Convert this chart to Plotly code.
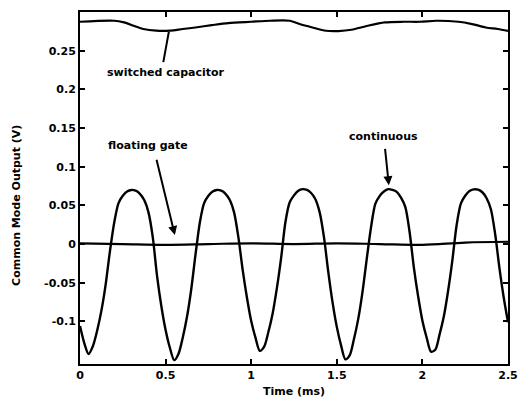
import plotly.graph_objects as go

# ---- data ----
time_cont = [round(i * 0.025, 3) for i in range(101)]
continuous = [
    -0.106, -0.128, -0.142, -0.132, -0.112, -0.086, -0.052, -0.009, 0.028, 0.053,
    0.0625, 0.068, 0.070, 0.069, 0.065, 0.057, 0.041, 0.009, -0.041, -0.080,
    -0.111, -0.134, -0.150, -0.142, -0.121, -0.094, -0.058, -0.013, 0.028, 0.053,
    0.0625, 0.068, 0.070, 0.069, 0.065, 0.057, 0.041, 0.009, -0.033, -0.069,
    -0.0995, -0.121, -0.138, -0.133, -0.114, -0.090, -0.057, -0.0175, 0.0286, 0.054,
    0.063, 0.069, 0.071, 0.070, 0.066, 0.058, 0.041, 0.009, -0.0355, -0.075,
    -0.107, -0.131, -0.149, -0.144, -0.123, -0.097, -0.062, -0.019, 0.022, 0.052,
    0.062, 0.068, 0.071, 0.070, 0.0675, 0.060, 0.048, 0.016, -0.030, -0.0675,
    -0.099, -0.121, -0.139, -0.1366, -0.117, -0.0936, -0.0606, -0.021, 0.0247, 0.0527,
    0.0625, 0.0687, 0.0708, 0.0703, 0.067, 0.0593, 0.045, 0.013, -0.031, -0.069,
    -0.101,
]

time_fg = [0.0, 0.25, 0.5, 0.75, 1.0, 1.25, 1.5, 1.75, 2.0, 2.25, 2.5]
floating_gate = [0.001, 0.0, -0.001, 0.0, 0.001, 0.0, 0.001, 0.0, -0.001, 0.002, 0.003]

time_sc = [0.0, 0.2, 0.257, 0.314, 0.37, 0.445, 0.524, 0.6, 0.674, 0.77, 0.866,
           1.0, 1.11, 1.226, 1.283, 1.357, 1.437, 1.51, 1.585, 1.68, 1.78,
           1.89, 1.985, 2.08, 2.21, 2.29, 2.37, 2.44, 2.5]
switched_cap = [0.2874, 0.2887, 0.2865, 0.2822, 0.278, 0.2758, 0.2758, 0.278, 0.280, 0.283, 0.2857,
                0.2874, 0.2887, 0.2887, 0.2844, 0.280, 0.2758, 0.2754, 0.277, 0.2822, 0.2865,
                0.2874, 0.2874, 0.2887, 0.2874, 0.2844, 0.280, 0.278, 0.2755]

x_ticks = [0, 0.5, 1, 1.5, 2, 2.5]
x_tick_labels = ["0", "0.5", "1", "1.5", "2", "2.5"]
y_ticks = [-0.1, -0.05, 0, 0.05, 0.1, 0.15, 0.2, 0.25]
y_tick_labels = ["-0.1", "-0.05", "0", "0.05", "0.1", "0.15", "0.2", "0.25"]

FONT = "DejaVu Sans, Liberation Sans, Arial, sans-serif"

fig = go.Figure()
fig.add_trace(go.Scatter(x=time_cont, y=continuous, mode="lines",
                         line=dict(color="black", width=2.4, shape="spline", smoothing=0.8),
                         showlegend=False, hoverinfo="skip"))
fig.add_trace(go.Scatter(x=time_fg, y=floating_gate, mode="lines",
                         line=dict(color="black", width=2.2, shape="spline"),
                         showlegend=False, hoverinfo="skip"))
fig.add_trace(go.Scatter(x=time_sc, y=switched_cap, mode="lines",
                         line=dict(color="black", width=2.2, shape="spline", smoothing=0.8),
                         showlegend=False, hoverinfo="skip"))

txt = dict(family=FONT, size=11, color="black", weight="bold")

annotations = [
    # labels
    dict(x=0.50, y=0.2216, xref="x", yref="y", text="switched capacitor", showarrow=False, font=txt),
    dict(x=0.40, y=0.1276, xref="x", yref="y", text="floating gate", showarrow=False, font=txt),
    dict(x=1.77, y=0.139, xref="x", yref="y", text="continuous", showarrow=False, font=txt),
    # arrows
    dict(x=0.519, y=0.2745, ax=0.485, ay=0.2333, xref="x", yref="y", axref="x", ayref="y",
         text="", showarrow=True, arrowhead=0, arrowwidth=2, arrowcolor="black"),
    dict(x=0.554, y=0.0116, ax=0.445, ay=0.111, xref="x", yref="y", axref="x", ayref="y",
         text="", showarrow=True, arrowhead=2, arrowsize=0.9, arrowwidth=2, arrowcolor="black"),
    dict(x=1.804, y=0.076, ax=1.781, ay=0.125, xref="x", yref="y", axref="x", ayref="y",
         text="", showarrow=True, arrowhead=2, arrowsize=0.9, arrowwidth=2, arrowcolor="black"),
    # axis titles
    dict(x=0.5, y=-0.079, xref="paper", yref="paper", text="Time (ms)", showarrow=False,
         font=dict(family=FONT, size=11, color="black", weight="bold"), xanchor="center", yanchor="middle"),
    dict(x=-0.148, y=0.451, xref="paper", yref="paper", text="Common Mode Output (V)", showarrow=False,
         textangle=-90, font=dict(family=FONT, size=11, color="black", weight="bold"),
         xanchor="center", yanchor="middle"),
]

fig.update_layout(
    width=528, height=405,
    margin=dict(l=80, r=10, t=11, b=41),
    paper_bgcolor="white", plot_bgcolor="white",
    font=dict(family=FONT, size=11, color="black"),
    annotations=annotations,
    xaxis=dict(range=[0, 2.5], tickvals=x_ticks, ticktext=x_tick_labels,
               ticks="inside", ticklen=5, tickwidth=1.5, tickcolor="black",
               showline=True, linewidth=2, linecolor="black", mirror="allticks",
               showgrid=False, zeroline=False, tickfont=txt),
    yaxis=dict(range=[-0.155, 0.3], tickvals=y_ticks, ticktext=y_tick_labels,
               ticks="inside", ticklen=5, tickwidth=1.5, tickcolor="black",
               showline=True, linewidth=2, linecolor="black", mirror="allticks",
               showgrid=False, zeroline=False, tickfont=txt),
)

fig.write_html("out.html")
